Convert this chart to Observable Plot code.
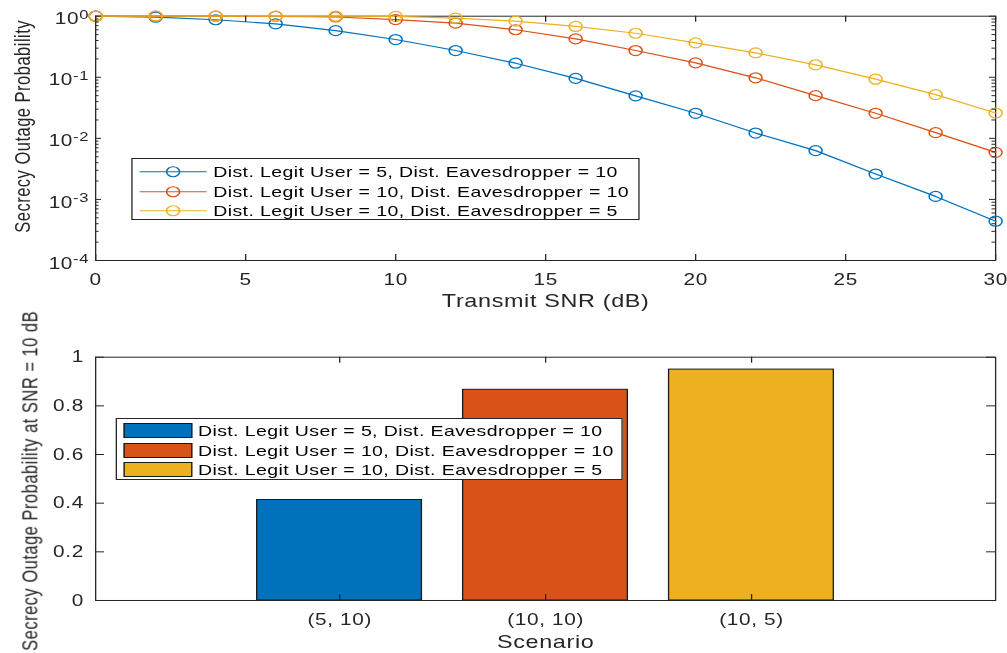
<!DOCTYPE html>
<html>
<head>
<meta charset="utf-8">
<script src="https://cdn.jsdelivr.net/npm/d3@7"></script>
<script src="https://cdn.jsdelivr.net/npm/@observablehq/plot@0.6"></script>
<style>
  html, body { margin: 0; padding: 0; background: #fff; overflow: hidden; }
  #wrap { position: relative; height: 653px; transform-origin: 0 0; font-family: "Liberation Sans", Arial, sans-serif; }
  .chart { position: absolute; left: 0; }
  .legend { position: absolute; background: #fff; border: 1px solid #262626; box-sizing: border-box; }
  .row { position: absolute; left: 0; right: 0; height: 19.5px; }
  .row .txt { position: absolute; top: 0; line-height: 19.5px; font-size: 15px; letter-spacing: 0.3px; color: #000; white-space: nowrap; }
  .row svg { position: absolute; top: 0; overflow: visible; }
  .row .sw { position: absolute; box-sizing: border-box; border: 1px solid #1a1a1a; }
</style>
</head>
<body>
<div id="wrap">
  <div id="top" class="chart" style="top:0"></div>
  <div id="bottom" class="chart" style="top:325px"></div>
  <div id="leg1" class="legend"></div>
  <div id="leg2" class="legend"></div>
</div>
<script>
// ---------------- data ----------------
const snr = [0, 2, 4, 6, 8, 10, 12, 14, 16, 18, 20, 22, 24, 26, 28, 30];
const outageD5E10  = [1, 0.963, 0.875, 0.75, 0.58, 0.415, 0.274, 0.17, 0.096, 0.0496, 0.0257, 0.0122, 0.0063, 0.0026, 0.00112, 0.00044];
const outageD10E10 = [1, 1, 1, 0.995, 0.97, 0.88, 0.77, 0.60, 0.425, 0.274, 0.172, 0.098, 0.050, 0.0257, 0.0124, 0.0059];
const outageD10E5  = [1, 1, 1, 1, 1, 0.99, 0.93, 0.83, 0.68, 0.526, 0.366, 0.251, 0.16, 0.093, 0.052, 0.026];
const seriesNames = [
  "Dist. Legit User = 5, Dist. Eavesdropper = 10",
  "Dist. Legit User = 10, Dist. Eavesdropper = 10",
  "Dist. Legit User = 10, Dist. Eavesdropper = 5"
];
const seriesColors = ["#0072BD", "#D95319", "#EDB120"];
const scenarioLabels = ["(5, 10)", "(10, 10)", "(10, 5)"];
const outageAt10dB = [0.413, 0.866, 0.949];
const xTicksTop = [0, 5, 10, 15, 20, 25, 30];
const yExpTop = [0, -1, -2, -3, -4];
const yTicksBar = [0, 0.2, 0.4, 0.6, 0.8, 1];
const xLabelTop = "Transmit SNR (dB)";
const yLabelTop = "Secrecy Outage Probability";
const xLabelBar = "Scenario";
const yLabelBar = "Secrecy Outage Probability at SNR = 10 dB";

// ---------------- layout ----------------
const S = 1.3;               // horizontal stretch of the reference
const W = 1007 / S;
const fx = v => v / S;
document.getElementById("wrap").style.width = W + "px";
document.getElementById("wrap").style.transform = `scaleX(${S})`;

const INK = "#262626";
const font = "'Liberation Sans', Arial, sans-serif";
const mL = fx(95), mR = W - fx(995);
const plotW = W - mL - mR;
const baseStyle = {fontFamily: font, fontSize: "16px", letterSpacing: "0.5px", color: INK, background: "transparent", overflow: "visible"};

// ---------------- top chart ----------------
const allSeries = [outageD5E10, outageD10E10, outageD10E5];
const rows = allSeries.map((vals, k) => snr.map((x, i) => ({x, y: vals[i], k})));
const yMajor = yExpTop.map(e => Math.pow(10, e));
const yMinor = [];
for (let e = -4; e < 0; e++) for (let m = 2; m <= 9; m++) yMinor.push(m * Math.pow(10, e));

const topH = 325, topMT = 15.7, topMB = 65;
const topPH = topH - topMT - topMB;

const topMarks = [Plot.frame({stroke: INK})];
rows.forEach((r, k) => {
  topMarks.push(Plot.line(r, {x: "x", y: "y", stroke: seriesColors[k], strokeWidth: 1.2}));
  topMarks.push(Plot.dot(r, {x: "x", y: "y", r: 5, stroke: seriesColors[k], strokeWidth: 1.2, fill: "none"}));
});
topMarks.push(
  Plot.tickX(xTicksTop, {x: d => d, insetTop: topPH - 6, stroke: INK}),
  Plot.tickX(xTicksTop, {x: d => d, insetBottom: topPH - 6, stroke: INK}),
  Plot.tickY(yMajor, {y: d => d, insetRight: plotW - fx(6), stroke: INK}),
  Plot.tickY(yMajor, {y: d => d, insetLeft: plotW - fx(6), stroke: INK}),
  Plot.tickY(yMinor, {y: d => d, insetRight: plotW - fx(3.5), stroke: INK}),
  Plot.tickY(yMinor, {y: d => d, insetLeft: plotW - fx(3.5), stroke: INK}),
  Plot.axisX({ticks: xTicksTop, tickSize: 0, tickPadding: 13, label: null, fontSize: 16}),
  Plot.axisY({ticks: yMajor, tickSize: 0, tickPadding: 5, label: null, dy: 3, fontSize: 16,
    tickFormat: d => "10^" + Math.round(Math.log10(d))}),
  Plot.text([xLabelTop], {text: d => d, frameAnchor: "bottom", lineAnchor: "middle", textAnchor: "middle", dy: 41, fontSize: 18, fill: INK}),
  Plot.text([yLabelTop], {text: d => d, frameAnchor: "left", textAnchor: "middle", lineAnchor: "middle", dx: fx(22) - mL, dy: -12, rotate: -90, fontSize: 16.5, fill: INK})
);

const topChart = Plot.plot({
  width: W, height: topH,
  marginLeft: mL, marginRight: mR, marginTop: topMT, marginBottom: topMB,
  x: {domain: [0, 30]},
  y: {type: "log", domain: [1e-4, 1]},
  style: baseStyle,
  marks: topMarks
});

function supify(svg) {
  svg.querySelectorAll("text").forEach(t => {
    const s = t.textContent;
    if (!s.includes("^")) return;
    const [b, e] = s.split("^");
    t.textContent = b;
    const ts = document.createElementNS("http://www.w3.org/2000/svg", "tspan");
    ts.setAttribute("dy", "-0.45em");
    ts.setAttribute("font-size", "0.8em");
    ts.textContent = e;
    t.appendChild(ts);
  });
}
supify(topChart);
document.getElementById("top").appendChild(topChart);

// ---------------- bottom chart ----------------
const botH = 328, botMT = 31.7, botMB = 53;
const botPH = botH - botMT - botMB;
const bars = outageAt10dB.map((v, i) => ({i: i + 1, v, color: seriesColors[i]}));

const botChart = Plot.plot({
  width: W, height: botH,
  marginLeft: mL, marginRight: mR, marginTop: botMT, marginBottom: botMB,
  x: {domain: [-0.185, 4.185]},
  y: {domain: [0, 1]},
  color: {type: "identity"},
  style: baseStyle,
  marks: [
    Plot.rectY(bars, {x1: d => d.i - 0.4, x2: d => d.i + 0.4, y1: 0, y2: "v", fill: "color", stroke: "#1a1a1a", strokeWidth: 1}),
    Plot.frame({stroke: INK}),
    Plot.tickX([1, 2, 3], {x: d => d, insetTop: botPH - 6, stroke: INK}),
    Plot.tickX([1, 2, 3], {x: d => d, insetBottom: botPH - 6, stroke: INK}),
    Plot.tickY(yTicksBar, {y: d => d, insetRight: plotW - fx(9), stroke: INK}),
    Plot.tickY(yTicksBar, {y: d => d, insetLeft: plotW - fx(9), stroke: INK}),
    Plot.axisX({ticks: [1, 2, 3], tickSize: 0, tickPadding: 13, label: null, fontSize: 16,
      tickFormat: i => scenarioLabels[i - 1]}),
    Plot.axisY({ticks: yTicksBar, tickSize: 0, tickPadding: 9, label: null, fontSize: 16,
      tickFormat: d => String(+d.toFixed(1))}),
    Plot.text([xLabelBar], {text: d => d, frameAnchor: "bottom", lineAnchor: "middle", textAnchor: "middle", dy: 42, fontSize: 18, fill: INK}),
    Plot.text([yLabelBar], {text: d => d, frameAnchor: "left", textAnchor: "middle", lineAnchor: "middle", dx: fx(30) - mL, dy: 2, rotate: -90, fontSize: 16.5, fill: INK})
  ]
});
document.getElementById("bottom").appendChild(botChart);

// ---------------- legends (HTML) ----------------
function buildLegend(id, box, kind) {
  const el = document.getElementById(id);
  el.style.left = fx(box.x0) + "px";
  el.style.top = box.y0 + "px";
  el.style.width = (fx(box.x1) - fx(box.x0)) + "px";
  el.style.height = (box.y1 - box.y0) + "px";
  seriesNames.forEach((name, k) => {
    const row = document.createElement("div");
    row.className = "row";
    row.style.top = (box.rowCenters[k] - box.y0 - 9.75) + "px";
    if (kind === "line") {
      const x1 = fx(box.swX0) - fx(box.x0), x2 = fx(box.swX1) - fx(box.x0);
      row.innerHTML = `<svg width="${x2}" height="19.5" style="left:0">
        <line x1="${x1}" x2="${x2}" y1="9.75" y2="9.75" stroke="${seriesColors[k]}" stroke-width="1.2"/>
        <circle cx="${(x1 + x2) / 2}" cy="9.75" r="5" fill="none" stroke="${seriesColors[k]}" stroke-width="1.2"/></svg>`;
    } else {
      const sw = document.createElement("div");
      sw.className = "sw";
      sw.style.left = (fx(box.swX0) - fx(box.x0)) + "px";
      sw.style.width = (fx(box.swX1) - fx(box.swX0)) + "px";
      sw.style.top = (9.75 - 7.5) + "px";
      sw.style.height = "15px";
      sw.style.background = seriesColors[k];
      row.appendChild(sw);
    }
    const t = document.createElement("div");
    t.className = "txt";
    t.style.left = (fx(box.txtX) - fx(box.x0)) + "px";
    t.textContent = name;
    row.appendChild(t);
    el.appendChild(row);
  });
}
buildLegend("leg1", {x0: 131, x1: 639, y0: 158, y1: 220, rowCenters: [171, 190.5, 210], swX0: 138, swX1: 205, txtX: 212}, "line");
buildLegend("leg2", {x0: 116, x1: 623, y0: 418.3, y1: 480, rowCenters: [430, 449.5, 469], swX0: 122.7, swX1: 191.7, txtX: 196.7}, "bar");
</script>
</body>
</html>
